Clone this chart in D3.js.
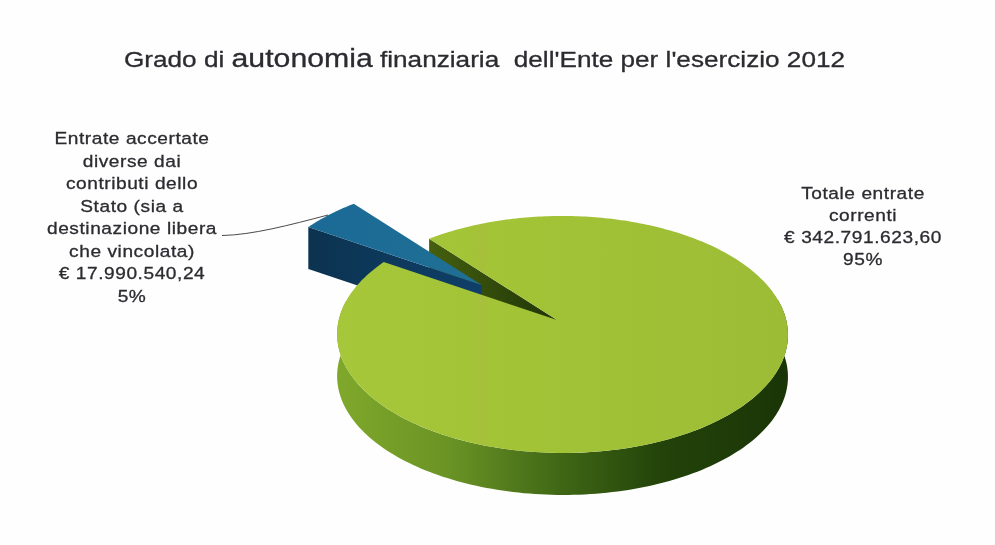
<!DOCTYPE html>
<html><head><meta charset="utf-8">
<script src="https://cdn.jsdelivr.net/npm/d3@7"></script>
<style>html,body{margin:0;background:#fefefe}svg{display:block;filter:blur(.65px)}text{font-family:"Liberation Sans",Arial,sans-serif;fill:#2b2b30;text-anchor:middle}</style>
</head><body><svg width="995" height="545"></svg>
<script>
const categories = ["Totale entrate correnti", "Entrate accertate diverse dai contributi dello Stato"];
const values = [342791623.60, 17990540.24];
const titleParts = [["Grado di ",22.5],["autonomia",26],[" finanziaria  dell'Ente per l'esercizio 2012",22.5]];
const leftLabel = ["Entrate accertate","diverse dai","contributi dello","Stato (sia a","destinazione libera","che vincolata)","€ 17.990.540,24","5%"];
const rightLabel = ["Totale entrate","correnti","€ 342.791.623,60","95%"];

const svg = d3.select("svg");
const defs = svg.append("defs");
function grad(id, x1, x2, stops){
  const g = defs.append("linearGradient").attr("id",id).attr("gradientUnits","userSpaceOnUse")
    .attr("x1",x1).attr("x2",x2).attr("y1",0).attr("y2",0);
  stops.forEach(s=>g.append("stop").attr("offset",s[0]).attr("stop-color",s[1]));
}
grad("side",337,788,[[0,"#7fa82b"],[.25,"#6a9325"],[.5,"#3f6615"],[.72,"#23430a"],[1,"#1a3506"]]);
grad("top",337,788,[[0,"#a5c739"],[.3,"#a3c436"],[.32,"#a8bf3c"],[.34,"#a3c436"],[1,"#9cbc36"]]);
grad("wall",427,557,[[0,"#46600f"],[1,"#1f3507"]]);
grad("btop",307,483,[[0,"#1b6a97"],[1,"#206f94"]]);
grad("bwall",307,483,[[0,"#0c3350"],[1,"#0f3f68"]]);

// perspective projection of the pie plane (unit circle) to the screen
const cx=557, cy=320, a=223.6, b=116.7, p=.122, q=.0244, depth=42, explode=.472;
const proj = (X,Y)=>{const w=1-p*Y-q*X; return [cx+a*X/w, cy+b*Y/w];};
const onCircle = (ang,r=1)=>proj(r*Math.sin(ang), -r*Math.cos(ang));
const start = -39.4*Math.PI/180;
const arcs = d3.pie().sort(null).startAngle(start).endAngle(start+2*Math.PI)(values);
const line = d3.line();
const down = pts=>pts.map(d=>[d[0],d[1]+depth]);
const arcPts = (a0,a1,n=160)=>d3.range(n+1).map(i=>onCircle(a0+(a1-a0)*i/n));

const green = arcs[0], blue = arcs[1];
const mid = (blue.startAngle+blue.endAngle)/2;
const off = onCircle(mid,explode); const shift = [off[0]-cx, off[1]-cy];
const mv = pts=>pts.map(d=>[d[0]+shift[0],d[1]+shift[1]]);
const apex=[cx,cy];

const deg=Math.PI/180;
const front = arcPts(80*deg,280*deg);
svg.append("path").attr("d",line(front.concat(down(front).reverse()))+"Z").attr("fill","url(#side)");
const gA = onCircle(green.startAngle);
svg.append("path").attr("d",line([gA,apex,[cx,cy+depth],[gA[0],gA[1]+depth]])+"Z").attr("fill","url(#wall)");
const bArc = mv(arcPts(blue.startAngle,blue.endAngle,30));
const bApex = mv([apex])[0];
const bLo = onCircle(blue.startAngle); const bLoM = mv([bLo])[0];
svg.append("path").attr("d",line([bLoM,bApex,[bApex[0],bApex[1]+depth],[bLoM[0],bLoM[1]+depth]])+"Z").attr("fill","url(#bwall)");
svg.append("path").attr("d",line([bApex].concat(bArc))+"Z").attr("fill","url(#btop)");
svg.append("path").attr("d",line([apex].concat(arcPts(green.startAngle,green.endAngle,360)))+"Z").attr("fill","url(#top)");

svg.append("path").attr("d","M222,235.5C252,235 290,225 328,215").attr("fill","none").attr("stroke","#4a4a4a").attr("stroke-width",1);

const t = svg.append("text").attr("transform","translate(484.5,66.5) scale(1.163,1)").style("white-space","pre").attr("stroke","#2b2b30").attr("stroke-width",.3);
titleParts.forEach(d=>t.append("tspan").attr("font-size",d[1]).text(d[0]));

function label(lines,x,ys,fs,sx){
  svg.selectAll(null).data(lines).join("text").attr("transform",(d,i)=>`translate(${x},${ys(i)}) scale(${sx},1)`)
    .attr("font-size",fs).attr("letter-spacing",.5).attr("stroke","#2b2b30").attr("stroke-width",.3).text(d=>d);
}
label(leftLabel,132,i=>144+i*22.5,17,1.125);
label(rightLabel,863,i=>198.5+i*22.2,17,1.125);
</script></body></html>
